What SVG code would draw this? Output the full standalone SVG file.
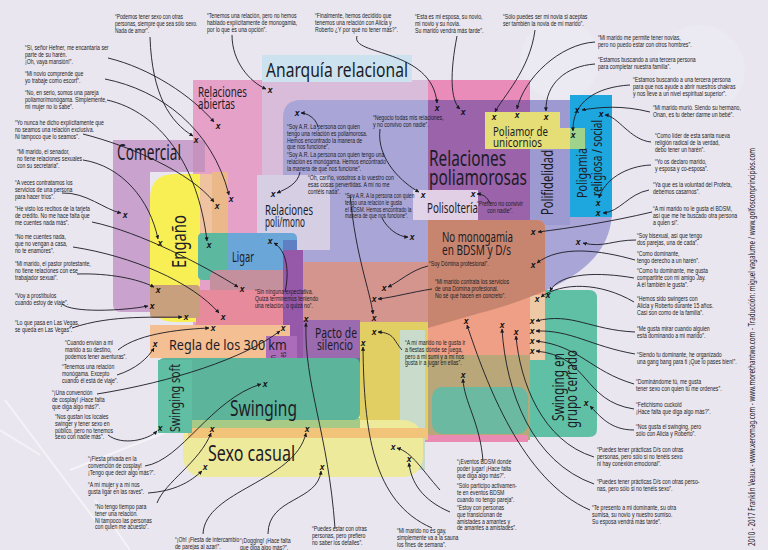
<svg xmlns="http://www.w3.org/2000/svg" width="768" height="550" viewBox="0 0 768 550">
<defs>
<marker id="ah" viewBox="0 0 6 6" refX="5.5" refY="3" markerWidth="4" markerHeight="4" markerUnits="userSpaceOnUse" orient="auto"><path d="M0,0 L6,3 L0,6 Z" fill="#1a1a22"/></marker>
<clipPath id="dclip"><path d="M283,118 Q283,100 301,100 L612,100 L612,210 C612,262 565,290 480,313 L428,328 L283,360 Z"/></clipPath>
</defs>
<style>
.q{font-family:"Liberation Sans","DejaVu Sans",sans-serif;font-size:7px;fill:#1c1c24}
.L{font-family:"Noto Sans","DejaVu Sans",sans-serif;fill:#1c1c26}
.x{font-family:"Liberation Sans",sans-serif;font-weight:bold;font-style:italic;font-size:8.5px;fill:#111;text-anchor:middle}
.c{fill:none;stroke:#1a1a22;stroke-width:0.9;marker-end:url(#ah)}
.ray{stroke:#ffffff;stroke-opacity:.5;fill:none;stroke-width:2}
</style>
<rect width="768" height="550" fill="#e9e6ef"/>
<g id="background-rays">
<path class="ray" d="M5,400 L95,520 M70,470 L260,395 M40,455 L0,430 M95,500 L130,550"/>
<circle cx="560" cy="60" r="40" fill="#fff" fill-opacity=".12"/>
<circle cx="700" cy="70" r="45" fill="#fff" fill-opacity=".12"/>
</g>

<g id="anarquia-area"><rect x="262" y="80" width="168" height="220" fill="#d8bcd9"/></g>
<g id="poli-area"><path d="M283,118 Q283,100 301,100 L612,100 L612,210 C612,262 565,290 480,313 L428,328 L283,360 Z" fill="#a9a6d7"/></g>
<g id="polifidelidad"><rect x="530" y="100" width="40" height="125" fill="#9d99d1"/>
<text class="L" font-size="16" transform="translate(553,215) rotate(-90) scale(.7,1)" textLength="92.9" lengthAdjust="spacingAndGlyphs">Polifidelidad</text></g>
<g id="relaciones-poliamorosas"><rect x="428" y="80" width="102" height="20" fill="#ea8cba"/><rect x="428" y="100" width="102" height="125" fill="#9a63aa"/>
<text class="L" font-size="22" transform="translate(429,166) scale(.7,1)"><tspan x="0" y="0" textLength="110" lengthAdjust="spacingAndGlyphs">Relaciones</tspan><tspan x="0" dy="19" textLength="140" lengthAdjust="spacingAndGlyphs">poliamorosas</tspan></text></g>
<g id="poligamia"><rect x="570" y="95" width="42" height="122" fill="#1ea6df"/>
<text class="L" font-size="15" fill="#1d2b53" transform="translate(587,198) rotate(-90) scale(.7,1)"><tspan x="0" y="0" textLength="71.4" lengthAdjust="spacingAndGlyphs">Poligamia</tspan><tspan x="2.9" dy="15" textLength="108.6" lengthAdjust="spacingAndGlyphs">religiosa / social</tspan></text></g>
<g id="unicornios"><path d="M485,112 L560,112 L560,128 L585,128 L585,149 L485,149 Z" fill="#e5de76"/><rect x="570" y="128" width="15" height="21" fill="#9fd28b"/>
<text class="L" font-size="13" transform="translate(493,136) scale(.75,1)"><tspan x="0" y="0" textLength="73.3" lengthAdjust="spacingAndGlyphs">Poliamor de</tspan><tspan x="0" dy="11" textLength="65.3" lengthAdjust="spacingAndGlyphs">unicornios</tspan></text></g>

<g id="grupo-cerrado"><path d="M530,290 L589,290 Q597,290 597,298 L597,429 Q597,437 589,437 L530,437 Z" fill="#5fc0a5"/>
<rect x="530" y="295" width="15" height="65" fill="#eec9a5"/>
<text class="L" font-size="16" transform="translate(564,421) rotate(-90) scale(.73,1)"><tspan x="0" y="0" textLength="93.2" lengthAdjust="spacingAndGlyphs">Swinging en</tspan><tspan x="-9.6" dy="13" textLength="106.8" lengthAdjust="spacingAndGlyphs">grupo cerrado</tspan></text></g>
<g id="bdsm"><path d="M428,220 L537,220 Q545,220 545,228 L545,295 L530,295 L530,360 L428,360 Z" fill="#ef9f86"/>
<path d="M428,220 L537,220 Q545,220 545,228 L545,360 L428,360 Z" fill="#c7856f" clip-path="url(#dclip)"/>
<rect x="428" y="355" width="102" height="85" fill="#b9a77a"/>
<rect x="432" y="387" width="96" height="47" rx="10" fill="#6ab9a0"/>
<rect x="420" y="435" width="108" height="7" fill="#e98bb3"/>
<text class="L" font-size="15" transform="translate(442,242) scale(.66,1)"><tspan x="0" y="0" textLength="107.6" lengthAdjust="spacingAndGlyphs">No monogamia</tspan><tspan x="0" dy="13" textLength="104.5" lengthAdjust="spacingAndGlyphs">en BDSM y D/s</tspan></text></g>
<g id="polisolteria"><rect x="413" y="190" width="65" height="30" fill="#e6d8ea" fill-opacity=".92"/>
<text class="L" font-size="14" transform="translate(427,213) scale(.7,1)" textLength="72.9" lengthAdjust="spacingAndGlyphs">Polisoltería</text></g>

<g id="relaciones-abiertas"><rect x="193" y="80" width="69" height="250" fill="#e6a1c8"/>
<text class="L" font-size="14" transform="translate(198,97) scale(.7,1)"><tspan x="0" y="0" textLength="70" lengthAdjust="spacingAndGlyphs">Relaciones</tspan><tspan x="0" dy="12" textLength="52.9" lengthAdjust="spacingAndGlyphs">abiertas</tspan></text></g>
<g id="comercial"><path d="M113,140 L150,140 L150,312 L121,312 Q113,312 113,304 Z" fill="#c9a3cd"/><rect x="113" y="140" width="80" height="32" fill="#c9a3cd"/><rect x="193" y="140" width="12" height="32" fill="#c593bd"/>
<text class="L" font-size="21" transform="translate(117,160) scale(.65,1)" textLength="98.5" lengthAdjust="spacingAndGlyphs">Comercial</text></g>
<g id="engano"><path d="M175,174 L200,174 L200,322 L175,322 Q150,322 150,297 L150,199 Q150,174 175,174 Z" fill="#f8ef55"/><rect x="200" y="174" width="12" height="59" fill="#f0c3a0"/><rect x="212" y="172" width="16" height="61" fill="#eab889"/>
<text class="L" font-size="20" transform="translate(186,268) rotate(-90) scale(.74,1)" textLength="71.6" lengthAdjust="spacingAndGlyphs">Engaño</text></g>
<g id="poli-mono"><rect x="257" y="175" width="73" height="75" fill="#d6cfe4"/>
<text class="L" font-size="14" transform="translate(265,215) scale(.66,1)"><tspan x="0" y="0" textLength="72.7" lengthAdjust="spacingAndGlyphs">Relaciones</tspan><tspan x="0" dy="12" textLength="60.6" lengthAdjust="spacingAndGlyphs">poli/mono</tspan></text></g>
<g id="ligar"><rect x="198" y="233" width="99" height="47" rx="5" fill="#6ba6d9"/><path d="M203,233 L228,233 L228,280 L203,280 Q198,280 198,275 L198,238 Q198,233 203,233 Z" fill="#5cb89f"/><rect x="283" y="240" width="14" height="40" fill="#5e7fc4"/>
<text class="L" font-size="15" transform="translate(232,262) scale(.63,1)" textLength="35" lengthAdjust="spacingAndGlyphs">Ligar</text></g>
<g id="otros"><path d="M218,270 L283,270 L283,292 L210,292 L210,278 Q210,270 218,270 Z" fill="#c5909e"/>
<rect x="196" y="290" width="94" height="40" fill="#e78a9c"/>
<rect x="303" y="262" width="125" height="60" fill="#d3958e"/>
<rect x="360" y="322" width="68" height="118" fill="#e2cf63"/><rect x="400" y="330" width="25" height="140" fill="#c9dccc"/>
<rect x="150" y="285" width="50" height="33" rx="4" fill="#c8a07e"/></g>
<g id="pacto"><rect x="283" y="250" width="20" height="122" fill="#9658a8"/><rect x="303" y="320" width="57" height="38" fill="#9c6aae"/><rect x="283" y="358" width="77" height="14" fill="#5b6fa8"/>
<text class="L" font-size="14" transform="translate(315,338) scale(.73,1)"><tspan x="0" y="0" textLength="57.5" lengthAdjust="spacingAndGlyphs">Pacto de</tspan><tspan x="2.7" dy="12" textLength="49.3" lengthAdjust="spacingAndGlyphs">silencio</tspan></text></g>
<g id="regla-band"><rect x="150" y="325" width="140" height="33" fill="#f3bf93"/></g>
<g id="sexo-convenciones"><rect x="266" y="336" width="31" height="52" fill="#ad6cb9"/>
<text class="L" font-size="8.5" transform="translate(276,379) rotate(-90) scale(.7,1)"><tspan x="0" y="0" textLength="34.3" lengthAdjust="spacingAndGlyphs">Sexo en</tspan><tspan x="-10" dy="10" textLength="48.6" lengthAdjust="spacingAndGlyphs">convenciones</tspan></text></g>
<g id="regla"><text class="L" font-size="15" transform="translate(169,350) scale(.84,1)" textLength="140.3" lengthAdjust="spacingAndGlyphs">Regla de los 300 km</text></g>
<g id="sexo-casual"><rect x="183" y="420" width="240" height="57" rx="20" fill="#eeea9c"/><rect x="188" y="428" width="240" height="10" fill="#f1c47a"/>
<text class="L" font-size="21" transform="translate(208,461) scale(.76,1)" textLength="114.5" lengthAdjust="spacingAndGlyphs">Sexo casual</text></g>
<g id="swinging"><rect x="185" y="418" width="175" height="10" fill="#a7cb86"/><rect x="158" y="358" width="202" height="62" rx="6" fill="#5cb59b"/>
<text class="L" font-size="21" transform="translate(230,416) scale(.74,1)" textLength="90.5" lengthAdjust="spacingAndGlyphs">Swinging</text></g>
<g id="swinging-soft"><rect x="158" y="360" width="34" height="73" fill="#60bea2"/>
<text class="L" font-size="15" transform="translate(180,432) rotate(-90) scale(.71,1)" textLength="95.8" lengthAdjust="spacingAndGlyphs">Swinging soft</text></g>
<g id="anarquia-label"><rect x="262" y="55" width="150" height="27" fill="#cce2ef"/>
<text class="L" font-size="20" transform="translate(266,77) scale(.78,1)" textLength="182" lengthAdjust="spacingAndGlyphs">Anarquía relacional</text></g>

<g id="connectors">
<path class="c" d="M150,37 C152,95 170,122 193,136"/>
<path class="c" d="M108,58 C150,68 192,96 214,122"/>
<path class="c" d="M105,79 C160,90 212,128 229,195"/>
<path class="c" d="M107,100 C160,112 198,165 207,241"/>
<path class="c" d="M83,134 C130,146 190,172 214,202"/>
<path class="c" d="M83,160 C122,166 150,200 158,239"/>
<path class="c" d="M62,193 C86,192 105,210 121,213"/>
<path class="c" d="M92,222 C140,232 205,266 238,287"/>
<path class="c" d="M73,247 C132,256 192,282 219,313"/>
<path class="c" d="M77,274 C110,273 138,279 154,287"/>
<path class="c" d="M62,304 C72,313 122,311 148,306"/>
<path class="c" d="M72,328 C112,314 160,318 182,317"/>
<path class="c" d="M118,350 C140,332 188,329 209,328"/>
<path class="c" d="M117,375 C136,369 148,358 154,348"/>
<path class="c" d="M97,394 C172,382 245,358 280,331"/>
<path class="c" d="M108,435 C122,446 148,440 157,431"/>
<path class="c" d="M145,466 C182,460 210,400 261,384"/>
<path class="c" d="M148,493 C175,491 190,482 202,471"/>
<path class="c" d="M157,503 C165,482 200,462 211,433"/>
<path class="c" d="M203,534 C205,490 295,482 306,433"/>
<path class="c" d="M268,534 C268,497 318,502 321,471"/>
<path class="c" d="M335,528 C328,432 304,385 306,323"/>
<path class="c" d="M432,528 C372,502 364,430 363,347"/>
<path class="c" d="M483,461 C480,422 464,402 463,379"/>
<path class="c" d="M440,490 C422,470 412,452 397,448"/>
<path class="c" d="M450,512 C422,500 411,482 409,463"/>
<path class="c" d="M232,35 C232,62 250,82 266,89"/>
<path class="c" d="M357,36 C350,56 432,48 437,103"/>
<path class="c" d="M457,36 C450,72 450,100 460,109"/>
<path class="c" d="M535,30 C530,70 502,98 495,112"/>
<path class="c" d="M595,42 C560,44 524,78 517,109"/>
<path class="c" d="M595,64 C566,66 545,84 546,111"/>
<path class="c" d="M630,85 C596,87 572,102 573,131"/>
<path class="c" d="M650,112 C622,105 600,107 582,110"/>
<path class="c" d="M651,142 C630,140 618,116 605,115"/>
<path class="c" d="M651,165 C626,166 604,180 599,198"/>
<path class="c" d="M649,190 C628,194 620,212 603,213"/>
<path class="c" d="M652,212 C610,222 570,228 538,232"/>
<path class="c" d="M636,240 C612,240 604,248 583,243"/>
<path class="c" d="M635,260 C600,250 560,245 537,263"/>
<path class="c" d="M634,278 C600,272 560,272 550,291"/>
<path class="c" d="M634,302 C600,282 562,282 541,297"/>
<path class="c" d="M635,332 C590,330 572,312 536,321"/>
<path class="c" d="M635,354 C590,346 572,330 536,331"/>
<path class="c" d="M634,384 C590,371 580,346 536,341"/>
<path class="c" d="M634,409 C582,401 590,356 536,351"/>
<path class="c" d="M634,430 C610,430 600,416 590,406"/>
<path class="c" d="M594,457 C542,441 520,382 516,336"/>
<path class="c" d="M594,484 C532,462 506,392 502,329"/>
<path class="c" d="M590,510 C522,481 486,382 467,325"/>
<path class="c" d="M318,127 C316,118 307,113 301,113"/>
<path class="c" d="M300,172 C298,184 286,189 277,193"/>
<path class="c" d="M350,195 C356,258 370,290 373,314"/>
<path class="c" d="M382,218 C387,228 398,237 408,237"/>
<path class="c" d="M380,129 C376,160 404,184 419,192"/>
<path class="c" d="M490,203 C487,197 483,194 477,194"/>
<path class="c" d="M428,266 C411,270 399,282 388,287"/>
<path class="c" d="M432,289 C412,292 395,297 378,299"/>
<path class="c" d="M285,292 C290,270 286,250 274,243"/>
<path class="c" d="M402,350 C393,340 395,333 378,332"/>
</g>

<g id="marks">
<text class="x" x="196" y="143">x</text><text class="x" x="218" y="129">x</text><text class="x" x="231" y="202">x</text><text class="x" x="209" y="248">x</text>
<text class="x" x="217" y="209">x</text><text class="x" x="160" y="246">x</text><text class="x" x="125" y="218">x</text><text class="x" x="242" y="292">x</text>
<text class="x" x="223" y="320">x</text><text class="x" x="158" y="293">x</text><text class="x" x="152" y="309">x</text><text class="x" x="186" y="320">x</text>
<text class="x" x="213" y="331">x</text><text class="x" x="155" y="347">x</text><text class="x" x="283" y="331">x</text><text class="x" x="160" y="431">x</text>
<text class="x" x="265" y="387">x</text><text class="x" x="205" y="470">x</text><text class="x" x="212" y="432">x</text><text class="x" x="307" y="432">x</text>
<text class="x" x="322" y="470">x</text><text class="x" x="306" y="322">x</text><text class="x" x="363" y="346">x</text><text class="x" x="463" y="378">x</text>
<text class="x" x="393" y="450">x</text><text class="x" x="409" y="462">x</text><text class="x" x="270" y="93">x</text><text class="x" x="437" y="111">x</text>
<text class="x" x="463" y="115">x</text><text class="x" x="494" y="120">x</text><text class="x" x="517" y="118">x</text><text class="x" x="546" y="120">x</text>
<text class="x" x="577" y="113">x</text><text class="x" x="573" y="138">x</text><text class="x" x="601" y="117">x</text><text class="x" x="598" y="206">x</text>
<text class="x" x="598" y="216">x</text><text class="x" x="533" y="235">x</text><text class="x" x="578" y="245">x</text><text class="x" x="533" y="268">x</text>
<text class="x" x="548" y="298">x</text><text class="x" x="537" y="302">x</text><text class="x" x="532" y="324">x</text><text class="x" x="532" y="334">x</text>
<text class="x" x="532" y="344">x</text><text class="x" x="532" y="354">x</text><text class="x" x="586" y="406">x</text><text class="x" x="516" y="335">x</text>
<text class="x" x="502" y="328">x</text><text class="x" x="466" y="324">x</text><text class="x" x="297" y="116">x</text><text class="x" x="273" y="197">x</text>
<text class="x" x="374" y="321">x</text><text class="x" x="412" y="240">x</text><text class="x" x="423" y="198">x</text><text class="x" x="473" y="197">x</text>
<text class="x" x="384" y="291">x</text><text class="x" x="374" y="302">x</text><text class="x" x="270" y="244">x</text><text class="x" x="374" y="335">x</text>
</g>

<g id="q1" transform="translate(115,19) scale(.7,1)"><text class="q"><tspan x="0" y="0">“Podemos tener sexo con otras</tspan><tspan x="0" dy="6.8">personas, siempre que sea sólo sexo.</tspan><tspan x="0" dy="6.8">Nada de amor”.</tspan></text></g>
<g id="q2" transform="translate(25,50) scale(.74,1)"><text class="q"><tspan x="0" y="0">“Sí, señor Hefner, me encantaría ser</tspan><tspan x="0" dy="6.8">parte de su harén.</tspan><tspan x="0" dy="6.8">¡Oh, vaya mansión!”.</tspan></text></g>
<g id="q3" transform="translate(25,76) scale(.74,1)"><text class="q"><tspan x="0" y="0">“Mi novio comprende que</tspan><tspan x="0" dy="6.8">yo trabaje como escort”.</tspan></text></g>
<g id="q4" transform="translate(25,95) scale(.74,1)"><text class="q"><tspan x="0" y="0">“No, en serio, somos una pareja</tspan><tspan x="0" dy="6.8">poliamor/monógama. Simplemente,</tspan><tspan x="0" dy="6.8">mi mujer no lo sabe”.</tspan></text></g>
<g id="q5" transform="translate(15,125) scale(.74,1)"><text class="q"><tspan x="0" y="0">“Yo nunca he dicho explícitamente que</tspan><tspan x="0" dy="6.8">no seamos una relación exclusiva.</tspan><tspan x="0" dy="6.8">Ni tampoco que lo seamos”.</tspan></text></g>
<g id="q6" transform="translate(17,154) scale(.74,1)"><text class="q"><tspan x="0" y="0">“Mi marido, el senador,</tspan><tspan x="0" dy="6.8">no tiene relaciones sexuales</tspan><tspan x="0" dy="6.8">con su secretaria”.</tspan></text></g>
<g id="q7" transform="translate(15,185) scale(.74,1)"><text class="q"><tspan x="0" y="0">“A veces contratamos los</tspan><tspan x="0" dy="6.8">servicios de una persona</tspan><tspan x="0" dy="6.8">para hacer tríos”.</tspan></text></g>
<g id="q8" transform="translate(15,211) scale(.74,1)"><text class="q"><tspan x="0" y="0">“He visto los recibos de la tarjeta</tspan><tspan x="0" dy="6.8">de crédito. No me hace falta que</tspan><tspan x="0" dy="6.8">me cuentes nada más”.</tspan></text></g>
<g id="q9" transform="translate(15,239) scale(.74,1)"><text class="q"><tspan x="0" y="0">“No me cuentes nada,</tspan><tspan x="0" dy="6.8">que no vengan a casa,</tspan><tspan x="0" dy="6.8">no te enamores”.</tspan></text></g>
<g id="q10" transform="translate(15,266) scale(.74,1)"><text class="q"><tspan x="0" y="0">“Mi marido, el pastor protestante,</tspan><tspan x="0" dy="6.8">no tiene relaciones con ese</tspan><tspan x="0" dy="6.8">trabajador sexual”.</tspan></text></g>
<g id="q11" transform="translate(15,298) scale(.74,1)"><text class="q"><tspan x="0" y="0">“Voy a prostíbulos</tspan><tspan x="0" dy="6.8">cuando estoy de viaje”.</tspan></text></g>
<g id="q12" transform="translate(15,325) scale(.74,1)"><text class="q"><tspan x="0" y="0">“Lo que pasa en Las Vegas,</tspan><tspan x="0" dy="6.8">se queda en Las Vegas”.</tspan></text></g>
<g id="q13" transform="translate(65,345) scale(.74,1)"><text class="q"><tspan x="0" y="0">“Cuando envían a mi</tspan><tspan x="0" dy="6.8">marido a su destino,</tspan><tspan x="0" dy="6.8">podemos tener aventuras”.</tspan></text></g>
<g id="q14" transform="translate(62,369) scale(.74,1)"><text class="q"><tspan x="0" y="0">“Tenemos una relación</tspan><tspan x="0" dy="6.8">monógama. Excepto</tspan><tspan x="0" dy="6.8">cuando él está de viaje”.</tspan></text></g>
<g id="q15" transform="translate(52,395) scale(.74,1)"><text class="q"><tspan x="0" y="0">“¡Una convención</tspan><tspan x="0" dy="6.8">de cosplay! ¡Hace falta</tspan><tspan x="0" dy="6.8">que diga algo más?”.</tspan></text></g>
<g id="q16" transform="translate(55,419) scale(.74,1)"><text class="q"><tspan x="0" y="0">“Nos gustan los locales</tspan><tspan x="0" dy="6.8">swinger y tener sexo en</tspan><tspan x="0" dy="6.8">público, pero no tenemos</tspan><tspan x="0" dy="6.8">sexo con nadie más”.</tspan></text></g>
<g id="q17" transform="translate(88,461) scale(.74,1)"><text class="q"><tspan x="0" y="0">“¡Fiesta privada en la</tspan><tspan x="0" dy="6.8">convención de cosplay!</tspan><tspan x="0" dy="6.8">¡Tengo que decir algo más?”.</tspan></text></g>
<g id="q18" transform="translate(88,487) scale(.74,1)"><text class="q"><tspan x="0" y="0">“A mí mujer y a mí nos</tspan><tspan x="0" dy="6.8">gusta ligar en las raves”.</tspan></text></g>
<g id="q19" transform="translate(95,509) scale(.74,1)"><text class="q"><tspan x="0" y="0">“No tengo tiempo para</tspan><tspan x="0" dy="6.8">tener una relación.</tspan><tspan x="0" dy="6.8">Ni tampoco las personas</tspan><tspan x="0" dy="6.8">con quien me acuesto”.</tspan></text></g>
<g id="q20" transform="translate(175,542) scale(.74,1)"><text class="q"><tspan x="0" y="0">“¡Oh! ¡Fiesta de intercambio</tspan><tspan x="0" dy="6.8">de parejas al azar!”.</tspan></text></g>
<g id="q21" transform="translate(240,543) scale(.74,1)"><text class="q"><tspan x="0" y="0">“¡Dogging! ¡Hace falta</tspan><tspan x="0" dy="6.8">que diga algo más?”.</tspan></text></g>
<g id="q22" transform="translate(312,531) scale(.74,1)"><text class="q"><tspan x="0" y="0">“Puedes estar con otras</tspan><tspan x="0" dy="6.8">personas, pero prefiero</tspan><tspan x="0" dy="6.8">no saber los detalles”.</tspan></text></g>
<g id="q23" transform="translate(397,533) scale(.74,1)"><text class="q"><tspan x="0" y="0">“Mi marido no es gay,</tspan><tspan x="0" dy="6.8">simplemente va a la sauna</tspan><tspan x="0" dy="6.8">los fines de semana”.</tspan></text></g>
<g id="q24" transform="translate(457,464) scale(.74,1)"><text class="q"><tspan x="0" y="0">“¡Eventos BDSM donde</tspan><tspan x="0" dy="6.8">poder jugar! ¡Hace falta</tspan><tspan x="0" dy="6.8">que diga algo más?”.</tspan></text></g>
<g id="q25" transform="translate(457,488) scale(.74,1)"><text class="q"><tspan x="0" y="0">“Sólo participo activamen-</tspan><tspan x="0" dy="6.8">te en eventos BDSM</tspan><tspan x="0" dy="6.8">cuando no tengo pareja”.</tspan></text></g>
<g id="q26" transform="translate(457,510) scale(.74,1)"><text class="q"><tspan x="0" y="0">“Estoy con personas</tspan><tspan x="0" dy="6.8">que transicionan de</tspan><tspan x="0" dy="6.8">amistades a amantes y</tspan><tspan x="0" dy="6.8">de amantes a amistades”.</tspan></text></g>
<g id="q49" transform="translate(207,18) scale(.74,1)"><text class="q"><tspan x="0" y="0">“Tenemos una relación, pero no hemos</tspan><tspan x="0" dy="6.8">hablado explícitamente de monogamia,</tspan><tspan x="0" dy="6.8">por lo que es una opción”.</tspan></text></g>
<g id="q50" transform="translate(315,18) scale(.74,1)"><text class="q"><tspan x="0" y="0">“Finalmente, hemos decidido que</tspan><tspan x="0" dy="6.8">tenemos una relación con Alicia y</tspan><tspan x="0" dy="6.8">Roberto ¿Y por qué no tener más?”.</tspan></text></g>
<g id="q27" transform="translate(415,19) scale(.74,1)"><text class="q"><tspan x="0" y="0">“Esta es mi esposa, su novio,</tspan><tspan x="0" dy="6.8">mi novio y  su novia.</tspan><tspan x="0" dy="6.8">Su marido vendrá más tarde”.</tspan></text></g>
<g id="q28" transform="translate(503,19) scale(.74,1)"><text class="q"><tspan x="0" y="0">“Sólo puedes ser mi novia si aceptas</tspan><tspan x="0" dy="6.8">ser también la novia de mi marido”.</tspan></text></g>
<g id="q29" transform="translate(598,40) scale(.74,1)"><text class="q"><tspan x="0" y="0">“Mi marido me permite tener novias,</tspan><tspan x="0" dy="6.8">pero no puedo estar con otros hombres”.</tspan></text></g>
<g id="q30" transform="translate(598,62) scale(.74,1)"><text class="q"><tspan x="0" y="0">“Estamos buscando a una tercera persona</tspan><tspan x="0" dy="6.8">para completar nuestra familia”.</tspan></text></g>
<g id="q31" transform="translate(633,82) scale(.74,1)"><text class="q"><tspan x="0" y="0">“Estamos buscando a una tercera persona</tspan><tspan x="0" dy="6.8">para que nos ayude a abrir nuestros chakras</tspan><tspan x="0" dy="6.8">y nos lleve a un nivel espiritual superior”.</tspan></text></g>
<g id="q32" transform="translate(653,110) scale(.74,1)"><text class="q"><tspan x="0" y="0">“Mi marido murió. Siendo su hermano,</tspan><tspan x="0" dy="6.8">Onan, es tu deber darme un bebé”.</tspan></text></g>
<g id="q33" transform="translate(655,138) scale(.74,1)"><text class="q"><tspan x="0" y="0">“Como líder de esta santa nueva</tspan><tspan x="0" dy="6.8">religión radical de la verdad,</tspan><tspan x="0" dy="6.8">debo tener un harén”.</tspan></text></g>
<g id="q34" transform="translate(655,164) scale(.74,1)"><text class="q"><tspan x="0" y="0">“Yo os declaro marido,</tspan><tspan x="0" dy="6.8">y esposa y co-esposa”.</tspan></text></g>
<g id="q35" transform="translate(653,187) scale(.74,1)"><text class="q"><tspan x="0" y="0">“Ya que es la voluntad del Profeta,</tspan><tspan x="0" dy="6.8">debemos casarnos”.</tspan></text></g>
<g id="q36" transform="translate(653,211) scale(.74,1)"><text class="q"><tspan x="0" y="0">“A mi marido no le gusta el BDSM,</tspan><tspan x="0" dy="6.8">así que me he buscado otra persona</tspan><tspan x="0" dy="6.8">a quien sí”.</tspan></text></g>
<g id="q37" transform="translate(637,238) scale(.74,1)"><text class="q"><tspan x="0" y="0">“Soy bisexual, así que tengo</tspan><tspan x="0" dy="6.8">dos parejas, una de cada”.</tspan></text></g>
<g id="q38" transform="translate(637,256) scale(.74,1)"><text class="q"><tspan x="0" y="0">“Como dominante,</tspan><tspan x="0" dy="6.8">tengo derecho a un harén”.</tspan></text></g>
<g id="q39" transform="translate(637,273) scale(.74,1)"><text class="q"><tspan x="0" y="0">“Como tu dominante, me gusta</tspan><tspan x="0" dy="6.8">compartirte con mi amigo Jay.</tspan><tspan x="0" dy="6.8">A él también le gusta”.</tspan></text></g>
<g id="q40" transform="translate(637,301) scale(.74,1)"><text class="q"><tspan x="0" y="0">“Hemos sido swingers con</tspan><tspan x="0" dy="6.8">Alicia y Roberto durante 15 años.</tspan><tspan x="0" dy="6.8">Casi son como de la familia”.</tspan></text></g>
<g id="q41" transform="translate(637,331) scale(.74,1)"><text class="q"><tspan x="0" y="0">“Me gusta mirar cuando alguien</tspan><tspan x="0" dy="6.8">está dominando a mi marido”.</tspan></text></g>
<g id="q42" transform="translate(637,357) scale(.74,1)"><text class="q"><tspan x="0" y="0">“Siendo tu dominante, he organizado</tspan><tspan x="0" dy="6.8">una gang bang para ti ¡Que lo pases bien!”.</tspan></text></g>
<g id="q43" transform="translate(636,384) scale(.74,1)"><text class="q"><tspan x="0" y="0">“Dominándome tú, me gusta</tspan><tspan x="0" dy="6.8">tener sexo con quien tú me ordenes”.</tspan></text></g>
<g id="q44" transform="translate(636,407) scale(.74,1)"><text class="q"><tspan x="0" y="0">“Fetichismo cuckold</tspan><tspan x="0" dy="6.8">¡Hace falta que diga algo más?”.</tspan></text></g>
<g id="q45" transform="translate(636,429) scale(.74,1)"><text class="q"><tspan x="0" y="0">“Nos gusta el swinging, pero</tspan><tspan x="0" dy="6.8">sólo con Alicia y Roberto”.</tspan></text></g>
<g id="q46" transform="translate(597,452) scale(.74,1)"><text class="q"><tspan x="0" y="0">“Puedes tener prácticas D/s con otras</tspan><tspan x="0" dy="6.8">personas, pero sólo si no tenéis sexo</tspan><tspan x="0" dy="6.8">ni hay conexión emocional”.</tspan></text></g>
<g id="q47" transform="translate(597,484) scale(.74,1)"><text class="q"><tspan x="0" y="0">“Puedes tener prácticas D/s con otras perso-</tspan><tspan x="0" dy="6.8">nas, pero sólo si no tenéis sexo”.</tspan></text></g>
<g id="q48" transform="translate(592,510) scale(.74,1)"><text class="q"><tspan x="0" y="0">“Te presento a mi dominante, su otra</tspan><tspan x="0" dy="6.8">sumisa, su novio y nuestro sumiso.</tspan><tspan x="0" dy="6.8">Su esposa vendrá más tarde”.</tspan></text></g>
<g id="q51" transform="translate(287,129) scale(.74,1)"><text class="q"><tspan x="0" y="0">“Soy A.R. La persona con quien</tspan><tspan x="0" dy="6.8">tengo una relación es poliamorosa.</tspan><tspan x="0" dy="6.8">Hemos encontrado la manera de</tspan><tspan x="0" dy="6.8">que nos funcione”.</tspan></text></g>
<g id="q52" transform="translate(287,157) scale(.74,1)"><text class="q"><tspan x="0" y="0">“Soy A.R. La persona con quien tengo una</tspan><tspan x="0" dy="6.8">relación es monógama. Hemos encontrado</tspan><tspan x="0" dy="6.8">la manera de que nos funcione”.</tspan></text></g>
<g id="q53" transform="translate(308,180) scale(.74,1)"><text class="q"><tspan x="0" y="0">“Oh, cariño, vosotros a lo vuestro con</tspan><tspan x="0" dy="6.8">esas cosas pervertidas. A mí no me</tspan><tspan x="0" dy="6.8">contéis nada”.</tspan></text></g>
<g id="q54" transform="translate(345,198) scale(.68,1)"><text class="q"><tspan x="0" y="0">“Soy A.R. A la persona con quien</tspan><tspan x="0" dy="6.8">tengo una relación le gusta</tspan><tspan x="0" dy="6.8">el BDSM. Hemos encontrado la</tspan><tspan x="0" dy="6.8">manera de que nos funcione”.</tspan></text></g>
<g id="q55" transform="translate(373,120) scale(.74,1)"><text class="q"><tspan x="0" y="0">“Negocio todas mis relaciones,</tspan><tspan x="0" dy="6.8">y no convivo con nadie”.</tspan></text></g>
<g id="q56" transform="translate(500,206) scale(.74,1)"><text class="q" text-anchor="middle"><tspan x="0" y="0">“Prefiero no convivir</tspan><tspan x="0" dy="6.8">con nadie”.</tspan></text></g>
<g id="q57" transform="translate(429,266) scale(.74,1)"><text class="q"><tspan x="0" y="0">“Soy Dómina profesional”.</tspan></text></g>
<g id="q58" transform="translate(435,284) scale(.74,1)"><text class="q"><tspan x="0" y="0">“Mi marido contrata los servicios</tspan><tspan x="0" dy="6.8">de una Dómina profesional.</tspan><tspan x="0" dy="6.8">No sé qué hacen en concreto”.</tspan></text></g>
<g id="q59" transform="translate(255,294) scale(.74,1)"><text class="q"><tspan x="0" y="0">“Sin ninguna expectativa.</tspan><tspan x="0" dy="6.8">Quizá terminemos teniendo</tspan><tspan x="0" dy="6.8">una relación, o quizá no”.</tspan></text></g>
<g id="q60" transform="translate(405,345) scale(.74,1)"><text class="q"><tspan x="0" y="0">“A mí marido no le gusta ir</tspan><tspan x="0" dy="6.8">a fiestas dónde se juega,</tspan><tspan x="0" dy="6.8">pero a mi sumi y a mí nos</tspan><tspan x="0" dy="6.8">gusta ir a jugar en ellas”.</tspan></text></g>

<g id="credits"><text class="L" font-size="9" fill="#333" transform="translate(755,546) rotate(-90) scale(.66,1)" textLength="603" lengthAdjust="spacingAndGlyphs">2010 - 2017 Franklin Veaux - www.xeromag.com - www.morethantwo.com - Traducción: miguel vagalume / www.golfosconprincipios.com</text></g>
</svg>
